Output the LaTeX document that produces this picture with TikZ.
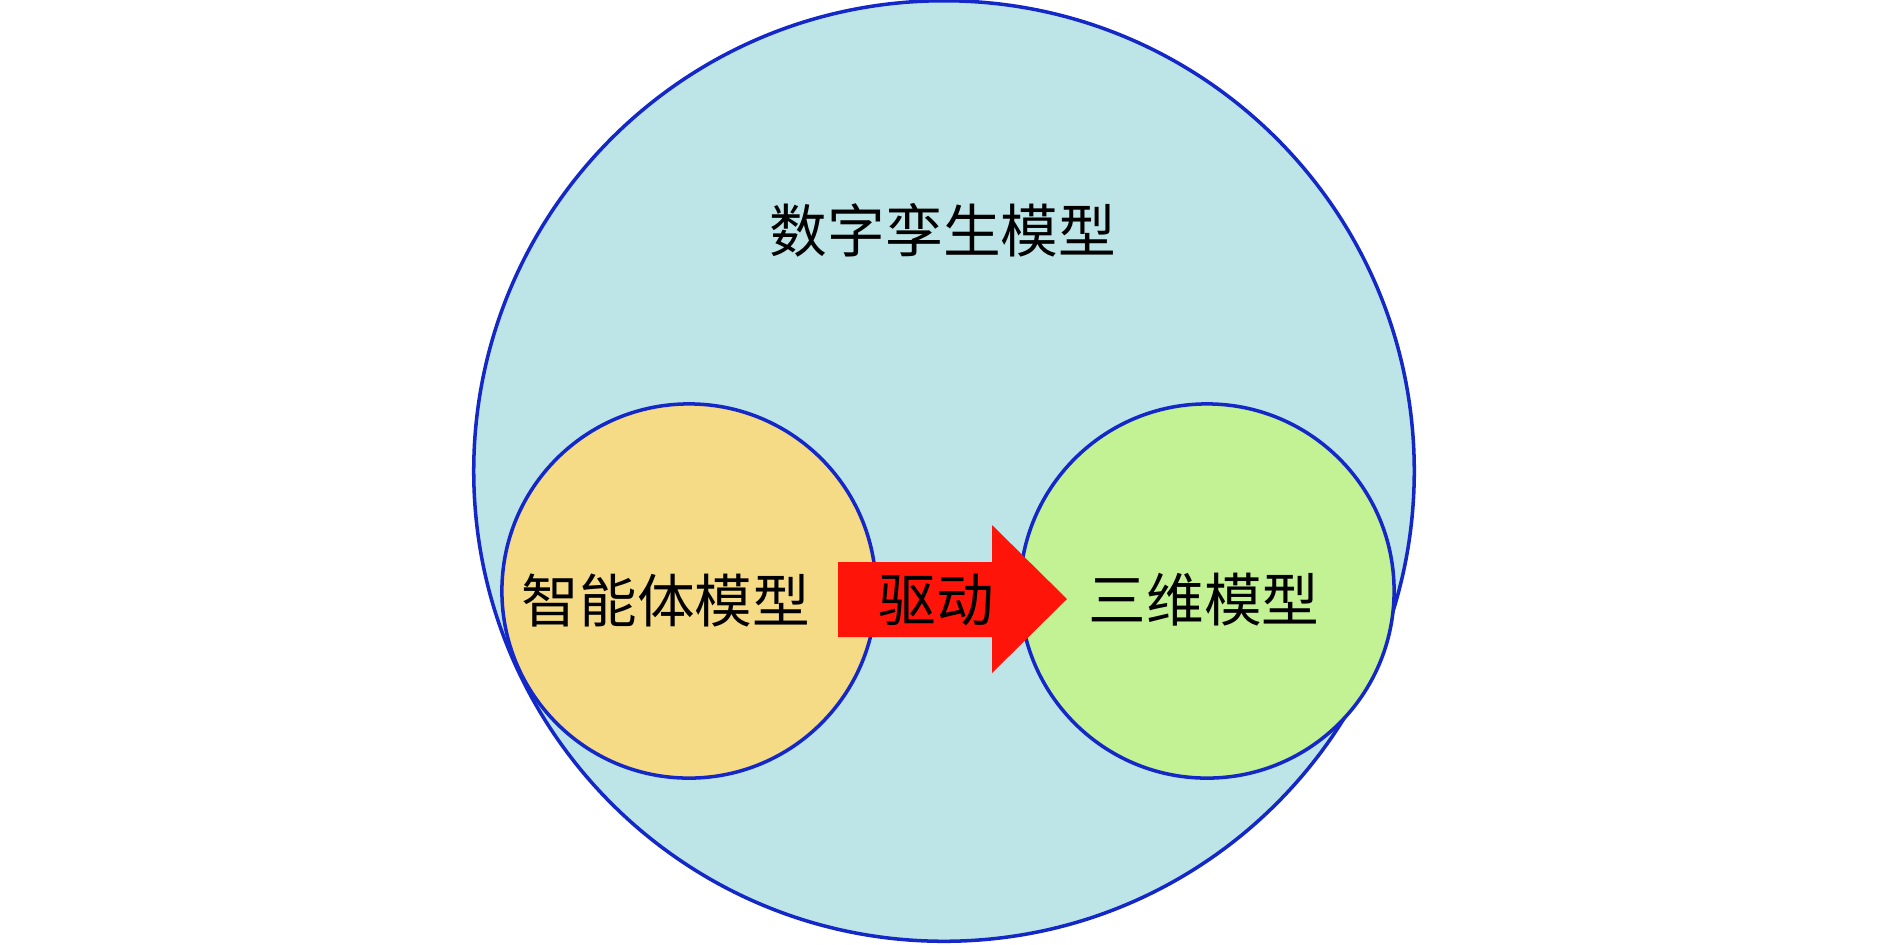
\documentclass[tikz,border=0pt]{standalone}
\usepackage{fontspec}
\newfontfamily\cjk{Noto Sans CJK SC}
\definecolor{bigfill}{RGB}{189,229,232}
\definecolor{yellowfill}{RGB}{245,219,134}
\definecolor{greenfill}{RGB}{194,242,148}
\definecolor{arrowred}{RGB}{255,20,10}
\definecolor{edgeblue}{RGB}{20,40,200}
\tikzset{
  ring/.style={circle, draw=edgeblue, line width=1pt, inner sep=0pt},
  label/.style={font=\cjk\fontsize{16.4pt}{18pt}\selectfont, text=black, inner sep=0pt, anchor=center},
  bigarrow/.style={fill=arrowred, draw=none}
}
\begin{document}
\begin{tikzpicture}[x=0.01cm, y=-0.01cm]
  \useasboundingbox (0,0) rectangle (1890,944);
  \node[ring, fill=bigfill, minimum size=9.4cm] (twin) at (944,471) {};
  \node[ring, fill=yellowfill, minimum size=3.74cm] (agent) at (689,591) {};
  \node[ring, fill=greenfill, minimum size=3.74cm] (threed) at (1207,591) {};
  \coordinate (a1) at (838,562);
  \coordinate (a2) at (992,562);
  \coordinate (a3) at (992,525);
  \coordinate (a4) at (1067,599);
  \coordinate (a5) at (992,673);
  \coordinate (a6) at (992,637);
  \coordinate (a7) at (838,637);
  \fill[bigarrow] (a1) -- (a2) -- (a3) -- (a4) -- (a5) -- (a6) -- (a7) -- cycle;
  \node[label] (twinlabel) at (943,230) {数字孪生模型};
  \node[label] (agentlabel) at (666,600) {智能体模型};
  \node[label] (drivelabel) at (936,600) {驱动};
  \node[label] (threedlabel) at (1204,600) {三维模型};
\end{tikzpicture}
\end{document}
